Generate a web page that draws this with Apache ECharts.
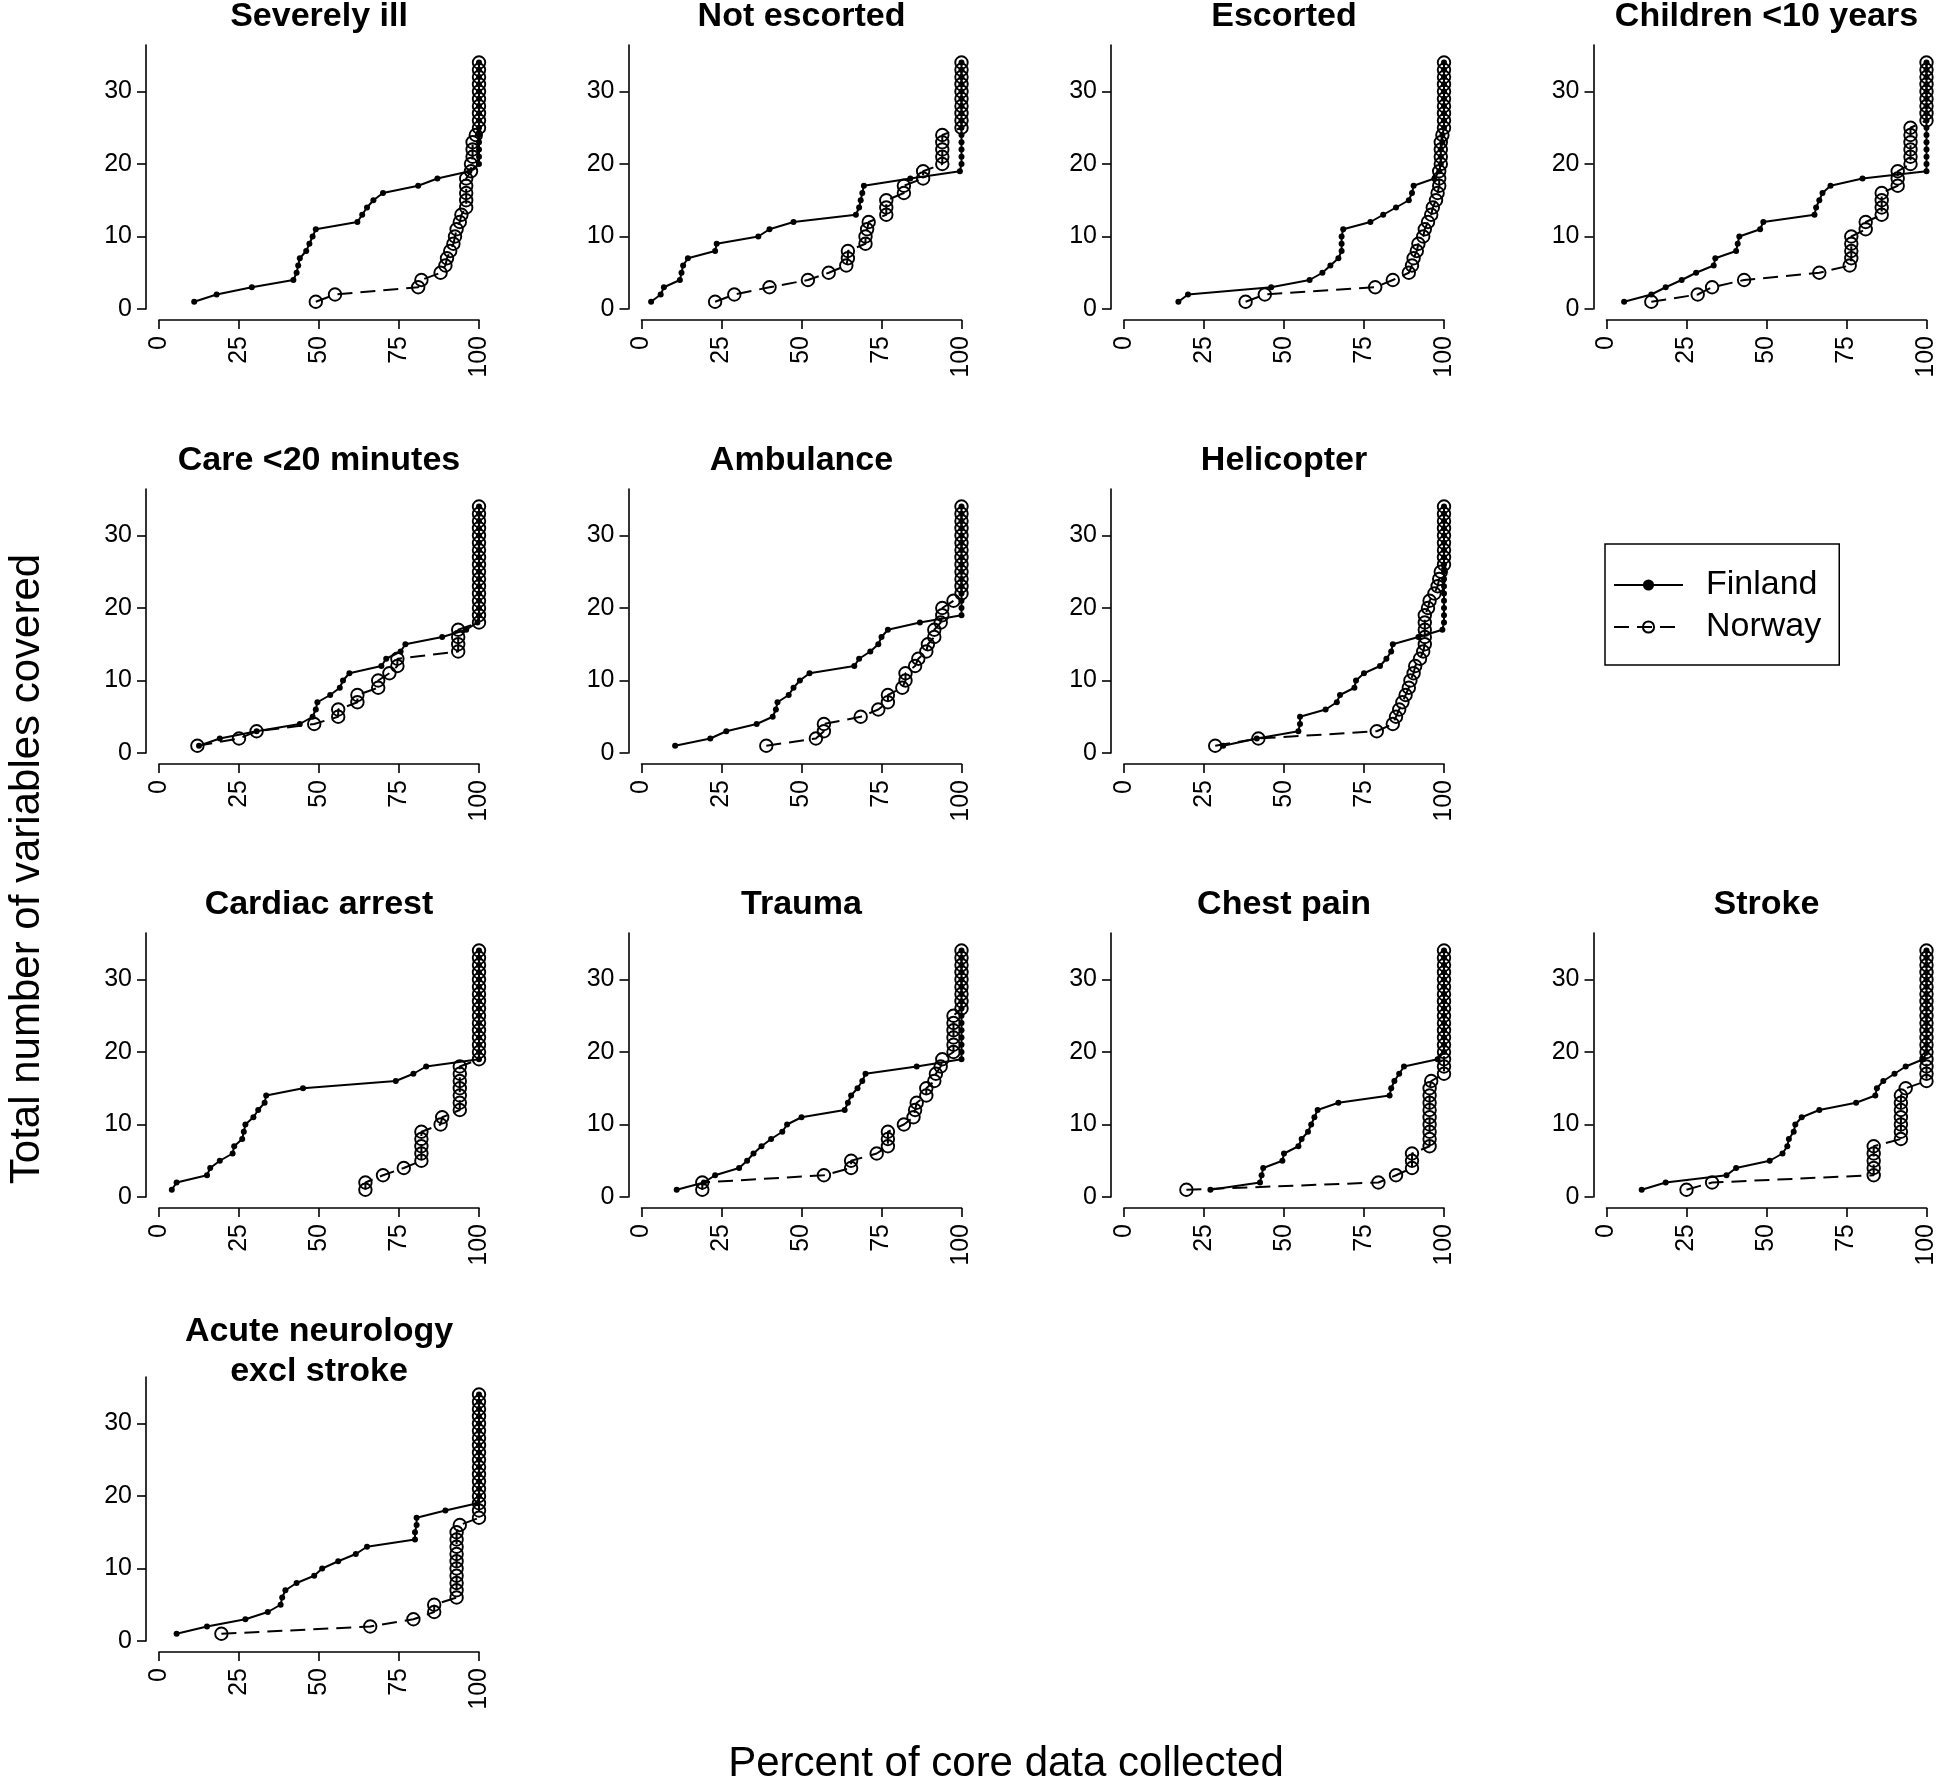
<!DOCTYPE html>
<html><head><meta charset="utf-8">
<script src="https://cdn.jsdelivr.net/npm/echarts@6/dist/echarts.min.js"></script>
<style>html,body{margin:0;padding:0;background:#fff}#c{width:1946px;height:1784px}</style>
</head><body><div id="c"></div>
<script>
// ---------- data ----------
const covered = [1,2,3,4,5,6,7,8,9,10,11,12,13,14,15,16,17,18,19,20,21,22,23,24,25,26,27,28,29,30,31,32,33,34];
const xTicks = [0,25,50,75,100];
const yTicks = [0,10,20,30];
const panelTitles = ['Severely ill','Not escorted','Escorted','Children <10 years','Care <20 minutes','Ambulance','Helicopter','Cardiac arrest','Trauma','Chest pain','Stroke','Acute neurology\nexcl stroke'];
const seriesNames = ['Finland','Norway'];

const severelyIllFinland = [11,18,29,42,43,43.5,44,46,47,48,49,62,63.5,65,67,70,81,87,97,100,100,100,100,100,100,100,100,100,100,100,100,100,100,100];
const severelyIllNorway  = [49,55,81,82,88,89.5,90,91,92,92.5,93,94,94.5,96,96,96,96,96,97.5,97.5,98,98,98,99,100,100,100,100,100,100,100,100,100,100];
const notEscortedFinland = [3,6,7,12,12.5,13,14.5,23,23.5,36.5,40,47.5,67,68,68.5,69,69.5,84,99.5,100,100,100,100,100,100,100,100,100,100,100,100,100,100,100];
const notEscortedNorway  = [23,29,40,52,58.5,64,64.5,64.5,70,70,70.5,71,76.5,76.5,76.5,82,82,88,88,94,94,94,94,94,100,100,100,100,100,100,100,100,100,100];
const escortedFinland    = [17,20,46,58,62,64.5,67,68,68,68,68.5,77,81,85,89,90,90.5,97,98.5,99,99,99,99.5,99.5,100,100,100,100,100,100,100,100,100,100];
const escortedNorway     = [38,44,78.5,84,89,90,90.5,91.5,92,93.5,94,95,96,96.5,97.5,98,98.5,98.5,98.5,99,99,99,99,99.5,100,100,100,100,100,100,100,100,100,100];
const childrenFinland    = [5.5,14,18.5,23.5,28,33.5,34,40.5,41,41.5,48,49,65,65.5,66.5,67.5,70,80,100,100,100,100,100,100,100,100,100,100,100,100,100,100,100,100];
const childrenNorway     = [14,28.5,33,43,66.5,76,76.5,76.5,76.5,76.5,81,81,86,86,86,86,91,91,91,95,95,95,95,95,95,100,100,100,100,100,100,100,100,100];
const careFinland        = [12.5,19,30.5,44,48,49,49.5,53.5,56.5,57.5,59.5,69.5,71,75.5,77,88.5,96,99.5,100,100,100,100,100,100,100,100,100,100,100,100,100,100,100,100];
const careNorway         = [12,25,30.5,48.5,56,56,62,62,68.5,68.5,72,74.5,74.5,93.5,93.5,93.5,93.5,100,100,100,100,100,100,100,100,100,100,100,100,100,100,100,100,100];
const ambulanceFinland   = [10.5,21.5,26.5,36,41,42,42.5,46,47.5,49.5,52.5,66.5,68,71.5,74,75,77,87,100,100,100,100,100,100,100,100,100,100,100,100,100,100,100,100];
const ambulanceNorway    = [39,54.5,57,57,68.5,74,77,77,81.5,82.5,82.5,85.5,86.5,89,89.5,91.5,91.5,93.5,94,94,97.5,100,100,100,100,100,100,100,100,100,100,100,100,100];
const helicopterFinland  = [31,41.5,54.5,55,55,63,66.5,67.5,72,72.5,75,80,82,83.5,84,92,99.5,100,100,100,100,100,100,100,100,100,100,100,100,100,100,100,100,100];
const helicopterNorway   = [28.5,42,79,84,85,86,87,88,89,89.5,90.5,91,92.5,93.5,94,94,94,94,94,95,95.5,97,98,98.5,99,100,100,100,100,100,100,100,100,100];
const cardiacFinland     = [4,5.5,15,16,19,23,23.5,26,26.5,27,29.5,31,33,33.5,45,74,79.5,83.5,100,100,100,100,100,100,100,100,100,100,100,100,100,100,100,100];
const cardiacNorway      = [64.5,64.5,70,76.5,82,82,82,82,82,88,88.5,94,94,94,94,94,94,94,100,100,100,100,100,100,100,100,100,100,100,100,100,100,100,100];
const traumaFinland      = [11,19.5,23,30.5,33,35,37.5,40.5,44,45.5,50,63.5,64.5,65.5,67.5,69,70,86,100,100,100,100,100,100,100,100,100,100,100,100,100,100,100,100];
const traumaNorway       = [19,19,57,65.5,65.5,73.5,77,77,77,82,85,85.5,86,89,89,91.5,92,93.5,94,97.5,97.5,97.5,97.5,97.5,97.5,100,100,100,100,100,100,100,100,100];
const chestFinland       = [27,42.5,43,43.5,49.5,50,54.5,55.5,57.5,58.5,59.5,60.5,67,83,83.5,84.5,86,87.5,98,100,100,100,100,100,100,100,100,100,100,100,100,100,100,100];
const chestNorway        = [19.5,79.5,85,90,90,90,95.5,95.5,95.5,95.5,95.5,95.5,95.5,95.5,95.5,96,100,100,100,100,100,100,100,100,100,100,100,100,100,100,100,100,100,100];
const strokeFinland      = [11,18.5,37.5,40.5,51,55,56.5,57,58.5,59,61,66.5,78,84,84.5,86.5,90,93.5,99,100,100,100,100,100,100,100,100,100,100,100,100,100,100,100];
const strokeNorway       = [25,33,83.5,83.5,83.5,83.5,83.5,92,92,92,92,92,92,92,93.5,100,100,100,100,100,100,100,100,100,100,100,100,100,100,100,100,100,100,100];
const neuroFinland       = [5.5,15,27,34,38,38.5,39.5,43,48.5,51,56,61.5,65,80,80,80.5,80.5,89.5,99.5,100,100,100,100,100,100,100,100,100,100,100,100,100,100,100];
const neuroNorway        = [19.5,66,79.5,86,86,93,93,93,93,93,93,93,93,93,93,94,100,100,100,100,100,100,100,100,100,100,100,100,100,100,100,100,100,100];

const finlandByPanel = [severelyIllFinland, notEscortedFinland, escortedFinland, childrenFinland, careFinland, ambulanceFinland, helicopterFinland, cardiacFinland, traumaFinland, chestFinland, strokeFinland, neuroFinland];
const norwayByPanel  = [severelyIllNorway, notEscortedNorway, escortedNorway, childrenNorway, careNorway, ambulanceNorway, helicopterNorway, cardiacNorway, traumaNorway, chestNorway, strokeNorway, neuroNorway];

// ---------- layout ----------
const FONT = '"Liberation Sans", Arial, Helvetica, sans-serif';
const cells = [[0,0],[0,1],[0,2],[0,3],[1,0],[1,1],[1,2],[2,0],[2,1],[2,2],[2,3],[3,0]];
const colX0 = [159, 641.5, 1124, 1606.5];
const rowY0 = [309, 753, 1197, 1641];
const PW = 320, UNIT = 7.25, YMAX = 36.4, PH = YMAX * UNIT;

const grid = [], xAxis = [], yAxis = [], series = [], graphic = [];
cells.forEach(([r, c], i) => {
  grid.push({left: colX0[c], top: rowY0[r] - PH, width: PW, height: PH});
  xAxis.push({
    type: 'value', gridIndex: i, min: 0, max: 100, interval: 25, offset: 11,
    axisLine: {show: true, onZero: false, lineStyle: {color: '#000', width: 1.6}},
    axisTick: {show: true, length: 9, lineStyle: {color: '#000', width: 1.6}, customValues: xTicks},
    axisLabel: {rotate: 90, margin: 16, fontSize: 25, color: '#000', fontFamily: FONT, customValues: xTicks},
    splitLine: {show: false}
  });
  yAxis.push({
    type: 'value', gridIndex: i, min: 0, max: YMAX, offset: 13,
    axisLine: {show: true, onZero: false, lineStyle: {color: '#000', width: 1.6}},
    axisTick: {show: true, length: 9, lineStyle: {color: '#000', width: 1.6}, customValues: yTicks},
    axisLabel: {margin: 14, fontSize: 25, color: '#000', fontFamily: FONT, customValues: yTicks},
    splitLine: {show: false}
  });
  const fin = finlandByPanel[i].map((x, k) => [x, covered[k]]);
  const nor = norwayByPanel[i].map((x, k) => [x, covered[k]]);
  series.push({
    type: 'line', name: seriesNames[0], xAxisIndex: i, yAxisIndex: i, data: fin,
    symbol: 'circle', symbolSize: 6, clip: false, silent: true, z: 3,
    itemStyle: {color: '#000'}, lineStyle: {color: '#000', width: 2}
  });
  series.push({
    type: 'line', name: seriesNames[1], xAxisIndex: i, yAxisIndex: i, data: nor,
    symbol: 'circle', symbolSize: 12.5, clip: false, silent: true, z: 2,
    itemStyle: {color: 'rgba(255,255,255,0)', borderColor: '#000', borderWidth: 1.9},
    lineStyle: {color: '#000', width: 2, type: [15, 8]}
  });
  graphic.push({
    type: 'text', x: colX0[c] + 160, y: 17 + 444 * r + (r === 3 ? 3 : 0), silent: true,
    style: {text: panelTitles[i], fill: '#000', font: 'bold 34px ' + FONT,
      textAlign: 'center', textVerticalAlign: 'middle', align: 'center', verticalAlign: 'middle', lineHeight: 40}
  });
});

graphic.push({
  type: 'text', x: 27, y: 869, rotation: Math.PI / 2, silent: true,
  style: {text: 'Total number of variables covered', fill: '#000', font: '42px ' + FONT,
    textAlign: 'center', textVerticalAlign: 'middle', align: 'center', verticalAlign: 'middle'}
});
graphic.push({
  type: 'text', x: 1006, y: 1764, silent: true,
  style: {text: 'Percent of core data collected', fill: '#000', font: '42px ' + FONT,
    textAlign: 'center', textVerticalAlign: 'middle', align: 'center', verticalAlign: 'middle'}
});

const chart = echarts.init(document.getElementById('c'), null, {renderer: 'canvas'});
chart.setOption({
  backgroundColor: '#fff',
  animation: false,
  grid, xAxis, yAxis, series, graphic,
  legend: {
    data: seriesNames, orient: 'vertical', left: 1605, top: 544,
    itemWidth: 69, itemHeight: 14, itemGap: 4,
    padding: [22, 18, 19, 8], borderColor: '#000', borderWidth: 1.5,
    selectedMode: false,
    textStyle: {fontSize: 34, color: '#000', fontFamily: FONT, lineHeight: 38, padding: [0, 0, 0, 18]}
  }
});
</script></body></html>
